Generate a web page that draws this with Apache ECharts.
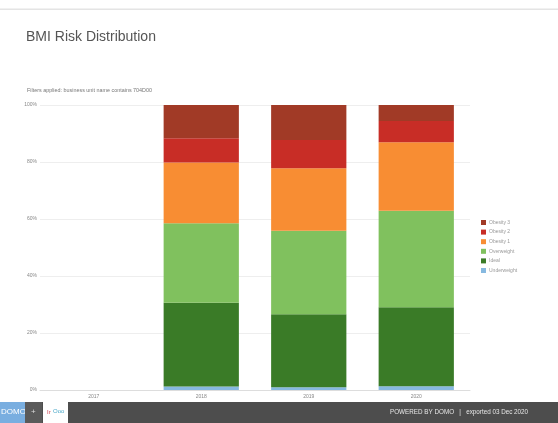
<!DOCTYPE html>
<html>
<head>
<meta charset="utf-8">
<script src="https://cdn.jsdelivr.net/npm/echarts@6/dist/echarts.min.js"></script>
<style>
html,body{margin:0;padding:0;background:#fff;}
#c{width:558px;height:423px;}
</style>
</head>
<body>
<div id="c"></div>
<script>
var categories = ['2017', '2018', '2019', '2020'];
var underweight = [null, 1.2, 1.0, 1.3];
var ideal = [null, 29.4, 25.6, 27.7];
var overweight = [null, 27.9, 29.3, 33.9];
var obesity1 = [null, 21.3, 21.9, 24.0];
var obesity2 = [null, 8.5, 9.9, 7.5];
var obesity3 = [null, 11.7, 12.3, 5.6];
var yTicks = [0, 20, 40, 60, 80, 100];

var seriesDefs = [
  {name: 'Underweight', data: underweight, color: '#86B9E0'},
  {name: 'Ideal', data: ideal, color: '#3A7B27'},
  {name: 'Overweight', data: overweight, color: '#80C15E'},
  {name: 'Obesity 1', data: obesity1, color: '#F88D33'},
  {name: 'Obesity 2', data: obesity2, color: '#C82D26'},
  {name: 'Obesity 3', data: obesity3, color: '#A13A26'}
];

var chart = echarts.init(document.getElementById('c'), null, {renderer: 'canvas'});
chart.setOption({
  animation: false,
  backgroundColor: '#fff',
  title: {
    text: 'BMI Risk Distribution',
    left: 21, top: 25,
    textStyle: {fontFamily: 'Arial, Liberation Sans, sans-serif', fontSize: 14, fontWeight: 'normal', color: '#555'}
  },
  grid: {left: 40, right: 88, top: 105, bottom: 33},
  legend: {
    orient: 'vertical',
    left: 476, top: 215,
    itemWidth: 5, itemHeight: 5, itemGap: 4.6,
    icon: 'rect',
    textStyle: {fontSize: 5, color: '#999', fontFamily: 'Arial, Liberation Sans, sans-serif', padding: [0,0,0,-2]},
    data: seriesDefs.map(function(s){return s.name;}).reverse()
  },
  xAxis: {
    type: 'category',
    data: categories,
    axisLine: {show: true, lineStyle: {color: '#ddd'}},
    axisTick: {show: false},
    axisLabel: {fontSize: 5, color: '#888', margin: 4}
  },
  yAxis: {
    type: 'value',
    min: 0, max: 100, interval: 20,
    axisLine: {show: false},
    axisTick: {show: false},
    splitLine: {lineStyle: {color: '#eee'}},
    axisLabel: {fontSize: 5, color: '#888', margin: 3, formatter: '{value}%'}
  },
  series: seriesDefs.map(function(s){
    return {
      name: s.name, type: 'bar', stack: 'total',
      data: s.data, barWidth: '70%',
      itemStyle: {color: s.color}
    };
  }),
  graphic: [
    {type: 'rect', shape: {x: 0, y: 8.5, width: 558, height: 1.5}, style: {fill: '#e4e4e4'}},
    {type: 'text', left: 27, top: 88, style: {text: 'Filters applied: business unit name contains 704D00', fontSize: 5.4, fill: '#777', fontFamily: 'Arial, sans-serif'}},
    {type: 'rect', shape: {x: 0, y: 402, width: 558, height: 21}, style: {fill: '#4d4d4d'}},
    {type: 'rect', shape: {x: 0, y: 402, width: 25, height: 21}, style: {fill: '#79aee0'}},
    {type: 'text', x: 1, y: 408, style: {text: 'DOMO', fontSize: 8, fill: '#fff', fontFamily: 'Arial, sans-serif'}},
    {type: 'rect', shape: {x: 25, y: 402, width: 17, height: 21}, style: {fill: '#5a5a5a'}},
    {type: 'text', x: 31, y: 408, style: {text: '+', fontSize: 8, fill: '#ddd', fontFamily: 'Arial, sans-serif'}},
    {type: 'rect', shape: {x: 43, y: 402, width: 25, height: 21}, style: {fill: '#ffffff'}},
    {type: 'text', x: 47, y: 409, style: {text: 'Ir', fontSize: 6, fill: '#d04050', fontFamily: 'Arial, sans-serif'}},
    {type: 'text', x: 53, y: 408, style: {text: 'Ooo', fontSize: 6, fill: '#4aa8c8', fontFamily: 'Arial, sans-serif'}},
    {type: 'text', x: 390, y: 409, style: {text: 'POWERED BY DOMO   |   exported 03 Dec 2020', fontSize: 6.3, fill: '#e6e6e6', fontFamily: 'Arial, sans-serif'}}
  ]
});
</script>
</body>
</html>
